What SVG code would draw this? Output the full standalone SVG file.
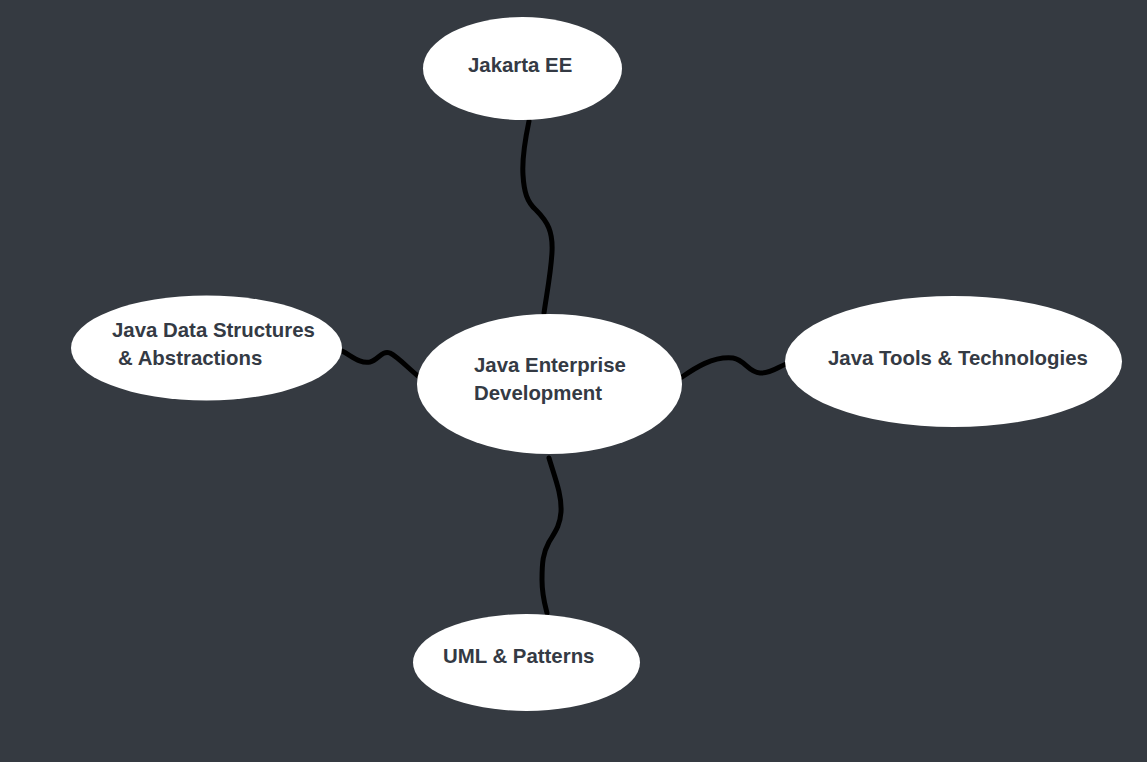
<svg xmlns="http://www.w3.org/2000/svg" width="1147" height="762" viewBox="0 0 1147 762">
<style>
.node{fill:#ffffff;stroke:none}
.lbl{font-family:"Liberation Sans",Arial,sans-serif;font-weight:bold;font-size:20.4px;fill:#343a44}
.edge{fill:none;stroke:#000000;stroke-width:5;stroke-linecap:round;stroke-linejoin:round}
</style>
<rect x="0" y="0" width="1147" height="762" fill="#353a41"/>
<g id="connectors">
<path class="edge" d="M529,121 C525,140 522,160 523,175 C524,192 527,202 536,210 C548,222 553,232 552,252 C551,272 547,292 544,313"/>
<path class="edge" d="M549,458 C555,478 562,495 561,512 C560,526 555,532 549,542 C543,553 542,562 542,580 C542,595 545,605 547,613"/>
<path class="edge" d="M342,351 C352,356 360,364 370,362 C378,360 382,350 390,353 C398,357 408,368 418,376"/>
<path class="edge" d="M682,377 C695,368 713,356 733,358 C745,360 748,372 760,373 C770,374 778,367 786,364"/>
</g>
<g id="center">
<ellipse class="node" cx="549.5" cy="384" rx="132.5" ry="70"/>
<text class="lbl" x="474" y="372">Java Enterprise</text>
<text class="lbl" x="474" y="400">Development</text>
</g>
<g id="jakarta">
<ellipse class="node" cx="522.5" cy="68.5" rx="99.5" ry="51.5"/>
<text class="lbl" x="468" y="72">Jakarta EE</text>
</g>
<g id="datastructures">
<ellipse class="node" cx="206.5" cy="348" rx="135.5" ry="52.5"/>
<text class="lbl" x="112" y="337">Java Data Structures</text>
<text class="lbl" x="118" y="365">&amp; Abstractions</text>
</g>
<g id="tools">
<ellipse class="node" cx="953.5" cy="361.5" rx="168.5" ry="65.5"/>
<text class="lbl" x="828" y="365">Java Tools &amp; Technologies</text>
</g>
<g id="uml">
<ellipse class="node" cx="526.5" cy="662.5" rx="113.5" ry="48.5"/>
<text class="lbl" x="443" y="663">UML &amp; Patterns</text>
</g>
</svg>
